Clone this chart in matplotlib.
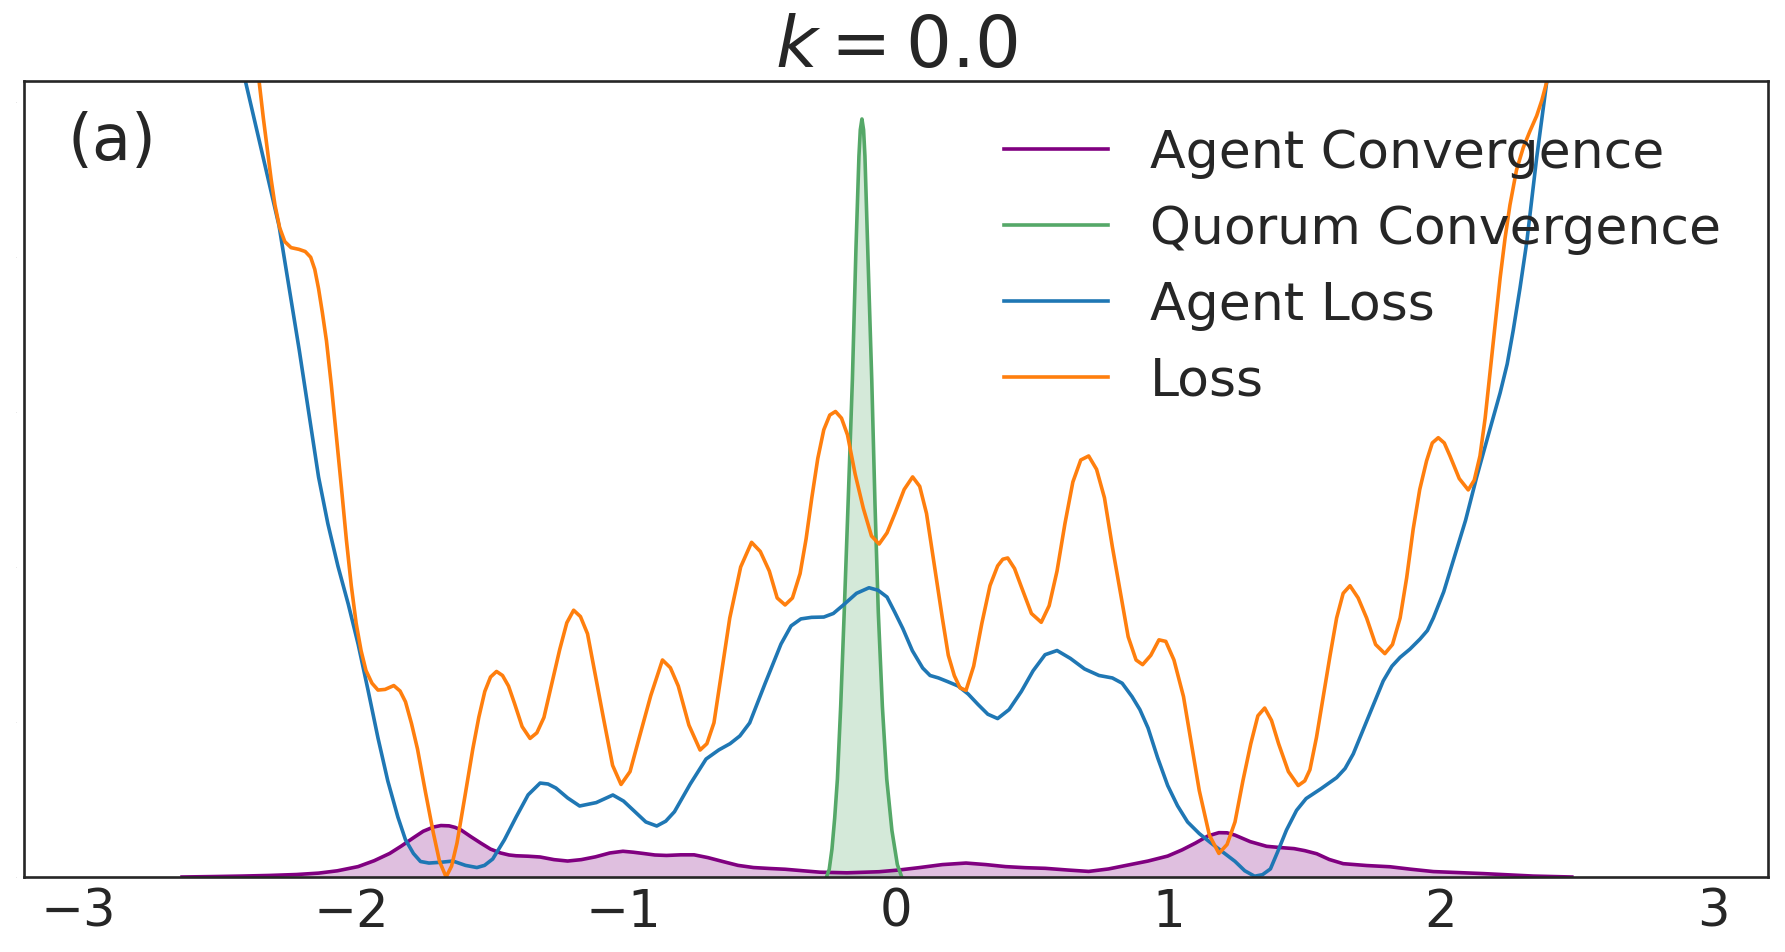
import numpy as np
import matplotlib
matplotlib.use("Agg")
import matplotlib.pyplot as plt

# values (y in arbitrary units, ticks hidden)
agent_loss_x = [-2.46, -2.387, -2.33, -2.264, -2.19, -2.119, -2.085, -2.048, -2.01, -1.974,
                -1.938, -1.901, -1.865, -1.828, -1.80, -1.771, -1.745, -1.714, -1.67, -1.626,
                -1.58, -1.538, -1.51, -1.480, -1.437, -1.394, -1.35, -1.306, -1.277, -1.248,
                -1.205, -1.161, -1.10, -1.039, -1.00, -0.958, -0.918, -0.878, -0.845, -0.813,
                -0.755, -0.697, -0.65, -0.609, -0.573, -0.537, -0.48, -0.422, -0.385, -0.349,
                -0.31, -0.265, -0.23, -0.193, -0.145, -0.099, -0.066, -0.033, -0.005, 0.025,
                0.06, 0.098, 0.125, 0.156, 0.19, 0.228, 0.265, 0.301, 0.337, 0.373,
                0.415, 0.460, 0.503, 0.547, 0.591, 0.64, 0.692, 0.745, 0.794, 0.83,
                0.866, 0.895, 0.925, 0.96, 0.997, 1.033, 1.070, 1.113, 1.156, 1.20,
                1.244, 1.28, 1.316, 1.345, 1.374, 1.40, 1.433, 1.47, 1.505, 1.56,
                1.617, 1.648, 1.678, 1.733, 1.788, 1.82, 1.850, 1.886, 1.923, 1.95,
                1.972, 2.01, 2.045, 2.09, 2.131, 2.175, 2.217, 2.243, 2.265, 2.29,
                2.315, 2.333, 2.351, 2.37, 2.388, 2.42]
agent_loss_y = [5.70, 5.13, 4.70, 4.20, 3.40, 2.58, 2.28, 2.006, 1.76, 1.503,
                1.21, 0.897, 0.62, 0.387, 0.24, 0.152, 0.10, 0.090, 0.095, 0.103,
                0.075, 0.061, 0.075, 0.116, 0.24, 0.387, 0.53, 0.606, 0.60, 0.574,
                0.51, 0.458, 0.48, 0.529, 0.49, 0.421, 0.355, 0.329, 0.36, 0.421,
                0.60, 0.761, 0.82, 0.860, 0.91, 0.994, 1.25, 1.503, 1.62, 1.665,
                1.675, 1.677, 1.70, 1.755, 1.83, 1.866, 1.85, 1.806, 1.71, 1.603,
                1.46, 1.348, 1.30, 1.284, 1.26, 1.232, 1.18, 1.113, 1.05, 1.022,
                1.08, 1.197, 1.33, 1.434, 1.461, 1.41, 1.342, 1.30, 1.284, 1.25,
                1.164, 1.08, 0.961, 0.77, 0.590, 0.46, 0.355, 0.28, 0.219, 0.16,
                0.101, 0.04, 0.005, 0.015, 0.052, 0.16, 0.303, 0.43, 0.506, 0.57,
                0.641, 0.70, 0.794, 1.03, 1.265, 1.36, 1.417, 1.47, 1.535, 1.59,
                1.671, 1.84, 2.041, 2.30, 2.581, 2.86, 3.123, 3.31, 3.526, 3.80,
                4.099, 4.37, 4.639, 4.89, 5.129, 5.60]

loss_x = [-2.35, -2.337, -2.322, -2.308, -2.293, -2.279, -2.262, -2.243, -2.22, -2.191,
          -2.168, -2.148, -2.133, -2.119, -2.105, -2.090, -2.072, -2.054, -2.035, -2.017,
          -1.999, -1.981, -1.963, -1.945, -1.923, -1.901, -1.875, -1.843, -1.82, -1.800,
          -1.778, -1.756, -1.727, -1.698, -1.675, -1.651, -1.631, -1.611, -1.582, -1.553,
          -1.531, -1.509, -1.488, -1.466, -1.444, -1.422, -1.40, -1.372, -1.343, -1.318,
          -1.292, -1.263, -1.234, -1.208, -1.183, -1.158, -1.132, -1.103, -1.074, -1.04,
          -1.009, -0.976, -0.943, -0.90, -0.857, -0.828, -0.799, -0.76, -0.719, -0.694,
          -0.668, -0.64, -0.610, -0.57, -0.530, -0.498, -0.465, -0.436, -0.407, -0.38,
          -0.352, -0.33, -0.309, -0.287, -0.265, -0.243, -0.222, -0.20, -0.178, -0.15,
          -0.120, -0.09, -0.062, -0.033, -0.004, 0.03, 0.061, 0.087, 0.112, 0.14,
          0.170, 0.192, 0.214, 0.235, 0.257, 0.285, 0.315, 0.345, 0.373, 0.392,
          0.410, 0.435, 0.460, 0.497, 0.533, 0.562, 0.591, 0.62, 0.649, 0.678,
          0.707, 0.736, 0.765, 0.794, 0.823, 0.852, 0.881, 0.905, 0.935, 0.965,
          0.99, 1.02, 1.055, 1.085, 1.113, 1.15, 1.185, 1.215, 1.244, 1.273,
          1.302, 1.328, 1.353, 1.378, 1.404, 1.44, 1.476, 1.50, 1.519, 1.543,
          1.568, 1.593, 1.617, 1.641, 1.666, 1.696, 1.727, 1.76, 1.794, 1.822,
          1.850, 1.874, 1.898, 1.922, 1.947, 1.968, 1.990, 2.012, 2.033, 2.067,
          2.100, 2.122, 2.143, 2.162, 2.180, 2.199, 2.217, 2.235, 2.253, 2.277,
          2.302, 2.326, 2.351, 2.37, 2.388, 2.41]
loss_y = [5.60, 5.129, 4.90, 4.706, 4.50, 4.335, 4.19, 4.099, 4.06, 4.049,
          4.035, 3.998, 3.92, 3.795, 3.64, 3.458, 3.17, 2.852, 2.51, 2.176,
          1.88, 1.636, 1.46, 1.332, 1.25, 1.206, 1.21, 1.235, 1.20, 1.130,
          0.99, 0.826, 0.55, 0.286, 0.10, 0.0, 0.07, 0.219, 0.52, 0.826,
          1.03, 1.197, 1.29, 1.326, 1.30, 1.232, 1.12, 0.97, 0.894, 0.93,
          1.029, 1.25, 1.468, 1.64, 1.721, 1.68, 1.569, 1.30, 1.029, 0.72,
          0.597, 0.68, 0.894, 1.17, 1.400, 1.35, 1.232, 0.98, 0.819, 0.86,
          0.995, 1.32, 1.671, 2.00, 2.159, 2.10, 1.974, 1.80, 1.755, 1.80,
          1.957, 2.18, 2.446, 2.70, 2.885, 2.98, 3.003, 2.96, 2.852, 2.60,
          2.379, 2.20, 2.148, 2.22, 2.345, 2.50, 2.581, 2.52, 2.345, 2.02,
          1.671, 1.43, 1.299, 1.22, 1.204, 1.36, 1.636, 1.88, 2.007, 2.05,
          2.058, 1.99, 1.872, 1.70, 1.643, 1.75, 1.974, 2.28, 2.548, 2.69,
          2.716, 2.63, 2.446, 2.13, 1.839, 1.55, 1.400, 1.37, 1.43, 1.53,
          1.52, 1.40, 1.164, 0.85, 0.557, 0.27, 0.152, 0.21, 0.355, 0.62,
          0.860, 1.04, 1.090, 1.01, 0.860, 0.68, 0.590, 0.62, 0.692, 0.90,
          1.164, 1.43, 1.671, 1.83, 1.879, 1.80, 1.671, 1.50, 1.441, 1.50,
          1.671, 1.93, 2.245, 2.50, 2.684, 2.80, 2.834, 2.80, 2.716, 2.57,
          2.497, 2.56, 2.716, 2.96, 3.256, 3.57, 3.865, 4.12, 4.335, 4.56,
          4.706, 4.81, 4.910, 5.01, 5.129, 5.50]

agent_conv_x = [-2.62, -2.5, -2.4, -2.3, -2.2, -2.119, -2.05, -1.974, -1.915, -1.858,
                -1.815, -1.771, -1.735, -1.698, -1.67, -1.640, -1.618, -1.596, -1.56, -1.524,
                -1.488, -1.451, -1.42, -1.394, -1.35, -1.306, -1.255, -1.205, -1.155, -1.103,
                -1.05, -1.002, -0.965, -0.928, -0.885, -0.842, -0.79, -0.741, -0.69, -0.638,
                -0.58, -0.523, -0.465, -0.407, -0.34, -0.279, -0.180, -0.062, 0.01, 0.083,
                0.17, 0.257, 0.33, 0.402, 0.475, 0.547, 0.63, 0.707, 0.78, 0.851,
                0.925, 0.997, 1.05, 1.099, 1.145, 1.185, 1.215, 1.244, 1.30, 1.360,
                1.41, 1.461, 1.50, 1.544, 1.59, 1.641, 1.727, 1.813, 1.89, 1.972,
                2.155, 2.338, 2.48]
agent_conv_y = [0.0, 0.003, 0.006, 0.010, 0.016, 0.025, 0.04, 0.067, 0.105, 0.152,
                0.20, 0.253, 0.295, 0.322, 0.332, 0.330, 0.32, 0.303, 0.26, 0.219,
                0.18, 0.155, 0.142, 0.137, 0.134, 0.129, 0.112, 0.103, 0.112, 0.130,
                0.155, 0.166, 0.160, 0.152, 0.142, 0.139, 0.143, 0.143, 0.125, 0.101,
                0.075, 0.061, 0.055, 0.050, 0.040, 0.031, 0.027, 0.034, 0.045, 0.060,
                0.080, 0.090, 0.080, 0.067, 0.060, 0.056, 0.045, 0.036, 0.052, 0.077,
                0.103, 0.135, 0.175, 0.219, 0.265, 0.286, 0.285, 0.270, 0.228, 0.198,
                0.190, 0.183, 0.170, 0.150, 0.113, 0.086, 0.074, 0.066, 0.050, 0.035,
                0.022, 0.006, 0.0]

quorum_conv_x = [-0.255, -0.245, -0.235, -0.225, -0.215, -0.203, -0.190, -0.175, -0.160, -0.147,
                 -0.136, -0.131, -0.125, -0.119, -0.114, -0.102, -0.089, -0.077, -0.065, -0.050,
                 -0.034, -0.015, 0.005, 0.021]
quorum_conv_y = [0.0, 0.05, 0.18, 0.38, 0.632, 1.10, 1.71, 2.45, 3.21, 4.05,
                 4.65, 4.82, 4.89, 4.82, 4.65, 3.95, 3.21, 2.40, 1.71, 1.10,
                 0.632, 0.30, 0.08, 0.0]

x_ticks = [-3, -2, -1, 0, 1, 2, 3]

TEXT = '#262626'
LW = 2.6

plt.rcParams['font.family'] = 'DejaVu Sans'
plt.rcParams['text.color'] = TEXT

fig = plt.figure(figsize=(17.85, 9.53), dpi=100)
ax = fig.add_axes([0.013445, 0.0787, 0.97703, 0.83526])

ax.plot(agent_conv_x, agent_conv_y, color='purple', lw=LW, label='Agent Convergence')
ax.fill_between(agent_conv_x, agent_conv_y, color='purple', alpha=0.25, lw=0)
ax.plot(quorum_conv_x, quorum_conv_y, color='#55a868', lw=LW, label='Quorum Convergence')
ax.fill_between(quorum_conv_x, quorum_conv_y, color='#55a868', alpha=0.25, lw=0)
ax.plot(agent_loss_x, agent_loss_y, color='#1f77b4', lw=LW, label='Agent Loss')
ax.plot(loss_x, loss_y, color='#ff7f0e', lw=LW, label='Loss')

ax.set_xlim(-3.2, 3.2)
ax.set_ylim(0, 5.135)
ax.set_xticks(x_ticks)
ax.set_xticklabels(['\u2212%d' % -t if t < 0 else '%d' % t for t in x_ticks])
ax.set_yticks(range(6))
ax.tick_params(axis='x', length=0, pad=7, labelsize=37, labelcolor=TEXT)
ax.tick_params(axis='y', length=0, pad=5, labelsize=1, labelcolor='#b0b0b0')

for sp in ax.spines.values():
    sp.set_color(TEXT)
    sp.set_linewidth(1.9)

ax.set_title(r'$k = 0.0$', fontsize=52, pad=9, color=TEXT)
ax.text(0.025, 0.925, '(a)', transform=ax.transAxes, fontsize=46,
        ha='left', va='center', color=TEXT)

leg = ax.legend(loc='upper right', frameon=False, fontsize=37.5)
for line in leg.get_lines():
    line.set_linewidth(LW)

fig.savefig('out.png', dpi=100)
